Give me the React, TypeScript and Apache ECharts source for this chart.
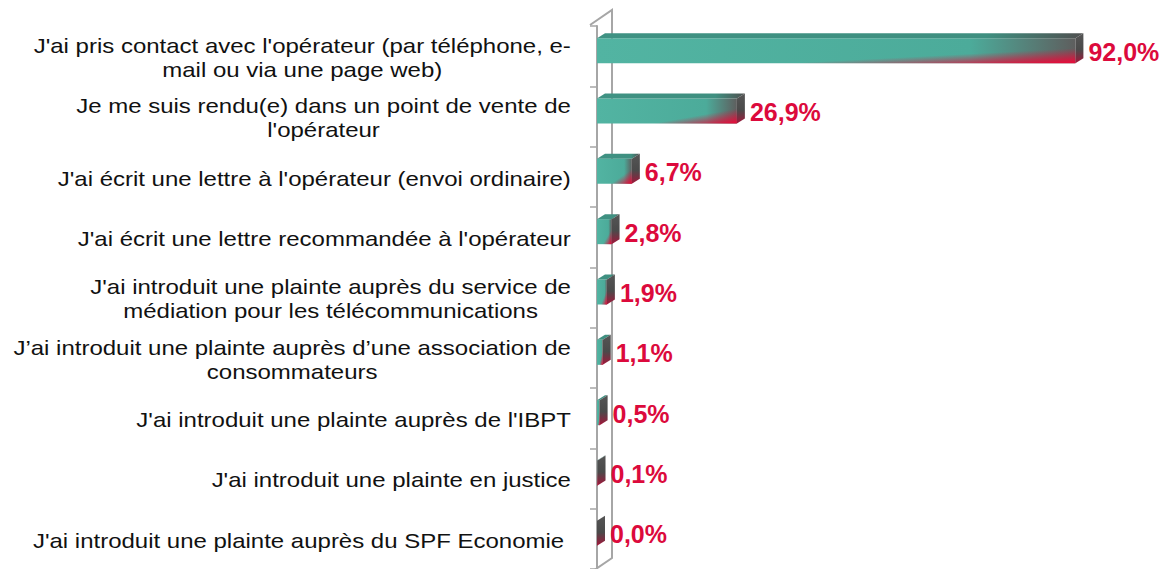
import React, { useEffect, useRef } from "react";
import * as echarts from "echarts";

const categories: string[] = [
  "J'ai pris contact avec l'opérateur (par téléphone, e-\nmail ou via une page web)",
  "Je me suis rendu(e) dans un point de vente de\nl'opérateur",
  "J'ai écrit une lettre à l'opérateur (envoi ordinaire)",
  "J'ai écrit une lettre recommandée à l'opérateur",
  "J'ai introduit une plainte auprès du service de\nmédiation pour les télécommunications",
  "J’ai introduit une plainte auprès d’une association de\nconsommateurs",
  "J'ai introduit une plainte auprès de l'IBPT",
  "J'ai introduit une plainte en justice",
  "J'ai introduit une plainte auprès du SPF Economie ",
];

const values: number[] = [92.0, 26.9, 6.7, 2.8, 1.9, 1.1, 0.5, 0.1, 0.0];

const W = 1175;
const H = 569;
const GRID_LEFT = 597;
const GRID_TOP = 26;
const LABEL_RIGHT = 571;
const CAT_FONT_SIZE = 20;
const CAT_SCALE_X = 1.2;
const CAT_FONT = `${CAT_FONT_SIZE}px "Liberation Sans", Arial, sans-serif`;

function measure(text: string): number {
  const c = document.createElement("canvas");
  const ctx = c.getContext("2d");
  if (!ctx) return text.length * 10;
  ctx.font = CAT_FONT;
  return ctx.measureText(text).width;
}

const lg = (x2: number, y2: number, stops: [number, string][]) =>
  new echarts.graphic.LinearGradient(
    0,
    0,
    x2,
    y2,
    stops.map(([offset, color]) => ({ offset, color }))
  );

export default function App() {
  const ref = useRef<HTMLDivElement>(null);

  useEffect(() => {
    if (!ref.current) return;
    const chart = echarts.init(ref.current, undefined, { renderer: "svg" });

    const widths = categories.map((c) =>
      Math.max(...c.split("\n").map((l) => measure(l)))
    );

    const option: any = {
      animation: false,
      backgroundColor: "#ffffff",
      grid: { left: GRID_LEFT, right: 58, top: GRID_TOP, bottom: -6, containLabel: false },
      xAxis: { type: "value", min: 0, max: 100, show: false },
      yAxis: {
        type: "category",
        data: categories,
        inverse: true,
        offset: 7,
        axisLine: { show: true, lineStyle: { color: "#a6a6a6", width: 2 } },
        axisTick: { show: true, length: 7, lineStyle: { color: "#a6a6a6", width: 1.5 } },
        axisLabel: { show: false },
        splitLine: { show: false },
      },
      graphic: [
        {
          type: "polyline",
          z: 0,
          shape: { points: [[590, 25], [612, 10], [612, 558], [590, 573]] },
          style: { stroke: "#a6a6a6", lineWidth: 2, fill: "none" },
        },
      ],
      series: [
        {
          type: "custom",
          clip: false,
          data: values.map((v, i) => [v, i]),
          renderItem: (params: any, api: any) => {
            const v = api.value(0);
            const idx = api.value(1);
            const p0 = api.coord([0, idx]);
            const p1 = api.coord([v, idx]);
            const h = 25;
            const dx = 8;
            const dy = 5;
            const cy = p0[1] - 5.5;
            const y0 = cy - h / 2;
            const y1 = cy + h / 2;
            const x0 = p0[0];
            const x1 = p1[0];
            const children: any[] = [];
            if (x1 - x0 > 0.2) {
              children.push({
                type: "rect",
                shape: { x: x0, y: y0, width: x1 - x0, height: h },
                style: {
                  fill: lg(1, 0, [
                    [0, "#52b4a2"],
                    [0.78, "#4cab9a"],
                    [1, "#5e5e5e"],
                  ]),
                },
              });
              children.push({
                type: "rect",
                shape: { x: x0, y: y0, width: x1 - x0, height: h },
                style: {
                  fill: lg(1, 1, [
                    [0, "rgba(224,16,60,0)"],
                    [0.7, "rgba(224,16,60,0)"],
                    [0.97, "rgba(224,16,60,1)"],
                    [1, "rgba(224,16,60,1)"],
                  ]),
                },
              });
            }
            children.push({
              type: "polygon",
              shape: {
                points: [
                  [x0, y0],
                  [x0 + dx, y0 - dy],
                  [x1 + dx, y0 - dy],
                  [x1, y0],
                ],
              },
              style: {
                fill: lg(1, 0, [
                  [0, "#3f9283"],
                  [0.8, "#3f8f80"],
                  [1, "#505050"],
                ]),
              },
            });
            children.push({
              type: "polygon",
              shape: {
                points: [
                  [x1, y0],
                  [x1 + dx, y0 - dy],
                  [x1 + dx, y1 - dy],
                  [x1, y1],
                ],
              },
              style: {
                fill: lg(0, 1, [
                  [0, "#555555"],
                  [0.55, "#4a4a4a"],
                  [1, "#a3163a"],
                ]),
              },
            });
            children.push({
              type: "text",
              x: x1 + dx + 5,
              y: cy + 1,
              style: {
                text: v.toFixed(1).replace(".", ",") + "%",
                fill: "#dc0a3c",
                font: 'bold 25px "Liberation Sans", Arial, sans-serif',
                align: "left",
                verticalAlign: "middle",
              },
            });
            const w = widths[idx] * CAT_SCALE_X;
            children.push({
              type: "text",
              x: LABEL_RIGHT - w / 2,
              y: p0[1] + 2,
              scaleX: CAT_SCALE_X,
              style: {
                text: categories[idx],
                fill: "#111111",
                font: CAT_FONT,
                align: "center",
                verticalAlign: "middle",
                lineHeight: 24,
              },
            });
            return { type: "group", children };
          },
        },
      ],
    };

    chart.setOption(option);
    return () => chart.dispose();
  }, []);

  return (
    <div
      ref={ref}
      style={{ position: "absolute", left: 0, top: 0, width: W, height: H }}
    />
  );
}
